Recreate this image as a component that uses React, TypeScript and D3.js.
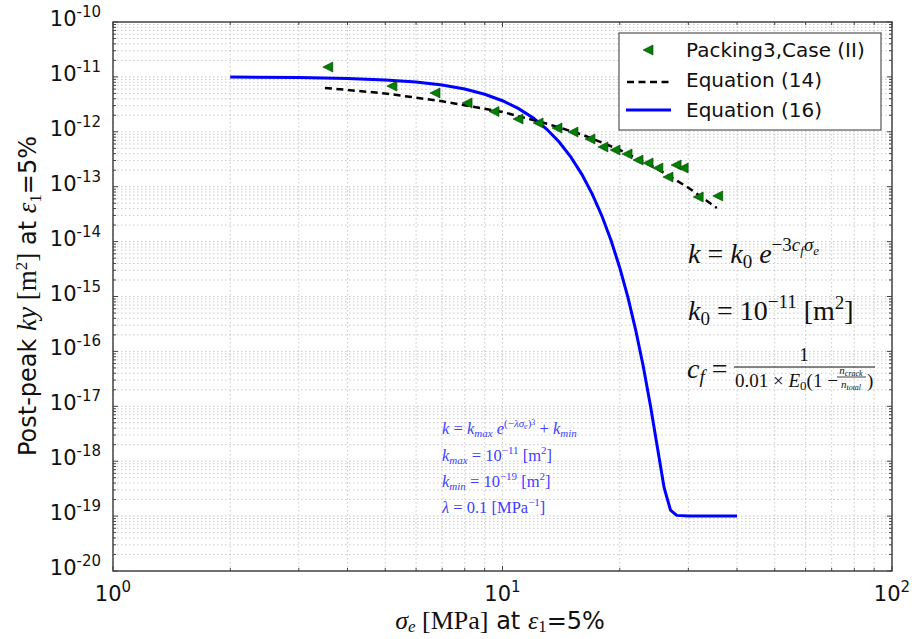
import React from "react";
import * as d3 from "d3";

// ---------- data ----------
const xTickExps = [0, 1, 2];
const yTickExps = [-10, -11, -12, -13, -14, -15, -16, -17, -18, -19, -20];

// Packing3, Case (II) measured points (sigma_e [MPa], k [m^2])
const pointSigma = [3.56, 5.2, 6.71, 8.11, 9.51, 10.96, 12.34, 13.8, 15.17, 16.77, 18.11, 19.45, 20.88, 22.28, 23.64, 25.06, 26.6, 27.9, 29.1, 31.8, 35.7];
const pointK = [1.51e-11, 6.8e-12, 5.1e-12, 3.35e-12, 2.34e-12, 1.71e-12, 1.45e-12, 1.17e-12, 9.9e-13, 7.4e-13, 5.3e-13, 4.66e-13, 3.94e-13, 3.06e-13, 2.7e-13, 2.19e-13, 1.5e-13, 2.48e-13, 2.19e-13, 6.5e-14, 6.8e-14];

// Equation (14) dashed curve
const eq14Sigma = [3.5, 5, 7, 10, 13, 16, 20, 25, 30, 35.5];
const eq14K = [6.3e-12, 5.0e-12, 3.6e-12, 2.3e-12, 1.4e-12, 8.9e-13, 4.7e-13, 2.1e-13, 9.6e-14, 4.1e-14];

// Equation (16) blue curve
const eq16Sigma = [2, 3, 4, 5, 6, 7, 8, 9, 10, 11, 12, 13, 14, 15, 16, 17, 18, 19, 20, 21, 22, 23, 24, 25, 26, 27, 28, 30, 35, 40];
const eq16K = [1.0e-11, 9.73e-12, 9.38e-12, 8.82e-12, 8.06e-12, 7.1e-12, 6.0e-12, 4.82e-12, 3.68e-12, 2.64e-12, 1.78e-12, 1.11e-12, 6.43e-13, 3.42e-13, 1.66e-13, 7.35e-14, 2.93e-14, 1.05e-14, 3.35e-15, 9.5e-16, 2.37e-16, 5.2e-17, 9.9e-18, 1.74e-18, 3.3e-19, 1.28e-19, 1.03e-19, 1.0e-19, 1.0e-19, 1.0e-19];

const legendLabels = ["Packing3,Case (II)", "Equation (14)", "Equation (16)"];

// ---------- layout ----------
const W = 917, H = 639;
const L = 113, R = 892, T = 22, B = 571;
const SANS = "'DejaVu Sans', sans-serif";
const SERIF = "'Liberation Serif', 'DejaVu Serif', serif";
const GREEN = "#008000";
const BLUE = "#0000ff";
const MATHBLUE = "#4040ff";

const x = d3.scaleLog().domain([1, 100]).range([L, R]);
const y = d3.scaleLog().domain([1e-20, 1e-10]).range([B, T]);

const triPath = (r: number) => `M${-r},0 L${r},${-r} L${r},${r} Z`;

export default function App() {
  const xMinor: number[] = [];
  for (let d = 0; d < 2; d++) for (let m = 2; m <= 9; m++) xMinor.push(m * Math.pow(10, d));
  const yMinor: number[] = [];
  for (let d = -20; d < -10; d++) for (let m = 2; m <= 9; m++) yMinor.push(m * Math.pow(10, d));
  const xMajor = xTickExps.map((e) => Math.pow(10, e));
  const yMajor = yTickExps.map((e) => Math.pow(10, e));

  const line = d3.line<[number, number]>().x((d) => x(d[0])).y((d) => y(d[1]));
  const eq14 = line(eq14Sigma.map((s, i) => [s, eq14K[i]] as [number, number])) || "";
  const eq16 = line(eq16Sigma.map((s, i) => [s, eq16K[i]] as [number, number])) || "";

  const gridStyle = { stroke: "#c4c4c4", strokeWidth: 0.9, strokeDasharray: "1.5,2.5" };

  return (
    <svg width={W} height={H} style={{ position: "absolute", left: 0, top: 0, background: "#fff" }}>
      <rect x={0} y={0} width={W} height={H} fill="#fff" />
      {/* grid */}
      <g>
        {[...xMinor, ...xMajor].map((v, i) => (
          <line key={"gx" + i} x1={x(v)} x2={x(v)} y1={T} y2={B} {...gridStyle} />
        ))}
        {[...yMinor, ...yMajor].map((v, i) => (
          <line key={"gy" + i} y1={y(v)} y2={y(v)} x1={L} x2={R} {...gridStyle} />
        ))}
      </g>
      {/* ticks (inside, all sides) */}
      <g stroke="#444" strokeWidth={1}>
        {xMajor.map((v, i) => (
          <g key={"xt" + i}>
            <line x1={x(v)} x2={x(v)} y1={B} y2={B - 5} />
            <line x1={x(v)} x2={x(v)} y1={T} y2={T + 5} />
          </g>
        ))}
        {xMinor.map((v, i) => (
          <g key={"xm" + i}>
            <line x1={x(v)} x2={x(v)} y1={B} y2={B - 3} />
            <line x1={x(v)} x2={x(v)} y1={T} y2={T + 3} />
          </g>
        ))}
        {yMajor.map((v, i) => (
          <g key={"yt" + i}>
            <line x1={L} x2={L + 5} y1={y(v)} y2={y(v)} />
            <line x1={R} x2={R - 5} y1={y(v)} y2={y(v)} />
          </g>
        ))}
        {yMinor.map((v, i) => (
          <g key={"ym" + i}>
            <line x1={L} x2={L + 3} y1={y(v)} y2={y(v)} />
            <line x1={R} x2={R - 3} y1={y(v)} y2={y(v)} />
          </g>
        ))}
      </g>
      {/* curves */}
      <path d={eq16} fill="none" stroke={BLUE} strokeWidth={3} />
      <path d={eq14} fill="none" stroke="#000" strokeWidth={2.5} strokeDasharray="7,4.5" />
      {pointSigma.map((s, i) => (
        <path
          key={"p" + i}
          d={triPath(5)}
          transform={`translate(${x(s)},${y(pointK[i])})`}
          fill={GREEN}
          stroke="#0a3a0a"
          strokeWidth={0.6}
        />
      ))}
      {/* frame */}
      <rect x={L} y={T} width={R - L} height={B - T} fill="none" stroke="#444" strokeWidth={1.5} />

      {/* tick labels */}
      {xTickExps.map((e, i) => (
        <text key={"xl" + i} x={x(Math.pow(10, e))} y={601} textAnchor="middle" fontFamily={SANS} fontSize={21} fill="#111">
          10
          <tspan dy={-9} fontSize={15}>{e}</tspan>
        </text>
      ))}
      {yTickExps.map((e, i) => (
        <text key={"yl" + i} x={101} y={y(Math.pow(10, e)) + 4} textAnchor="end" fontFamily={SANS} fontSize={21} fill="#111">
          10
          <tspan dy={-9} fontSize={15}>{e}</tspan>
        </text>
      ))}

      {/* axis labels */}
      <text x={500} y={629} textAnchor="middle" fontSize={24} fill="#111">
        <tspan fontFamily={SERIF} fontStyle="italic" fontSize={26}>σ</tspan>
        <tspan fontFamily={SERIF} fontStyle="italic" fontSize={17} dy={3}>e</tspan>
        <tspan fontFamily={SERIF} fontSize={26} dy={-3}> [MPa]</tspan>
        <tspan fontFamily={SANS}> at </tspan>
        <tspan fontFamily={SERIF} fontStyle="italic" fontSize={26}>ε</tspan>
        <tspan fontFamily={SERIF} fontSize={17} dy={3}>1</tspan>
        <tspan fontFamily={SANS} dy={-3}>=5%</tspan>
      </text>
      <text transform="translate(36,296) rotate(-90)" textAnchor="middle" fontSize={24} fill="#111">
        <tspan fontFamily={SANS}>Post-peak </tspan>
        <tspan fontFamily={SERIF} fontStyle="italic" fontSize={27}>ky</tspan>
        <tspan fontFamily={SERIF} fontSize={27}> [m</tspan>
        <tspan fontFamily={SERIF} fontSize={17} dy={-9}>2</tspan>
        <tspan fontFamily={SERIF} fontSize={27} dy={9}>]</tspan>
        <tspan fontFamily={SANS}> at </tspan>
        <tspan fontFamily={SERIF} fontStyle="italic" fontSize={27}>ε</tspan>
        <tspan fontFamily={SERIF} fontSize={17} dy={5}>1</tspan>
        <tspan fontFamily={SANS} dy={-5}>=5%</tspan>
      </text>

      {/* legend */}
      <g>
        <rect x={619} y={33} width={262} height={97} fill="#fff" stroke="#555" strokeWidth={1.2} />
        <path d={triPath(5)} transform="translate(648,50)" fill={GREEN} stroke="#0a3a0a" strokeWidth={0.6} />
        <line x1={627} x2={669} y1={82} y2={82} stroke="#000" strokeWidth={2.5} strokeDasharray="7,4.5" />
        <line x1={626} x2={671} y1={110} y2={110} stroke={BLUE} strokeWidth={3} />
        {legendLabels.map((t, i) => (
          <text key={"lg" + i} x={686} y={57 + i * 30} fontFamily={SANS} fontSize={20} fill="#111">
            {t}
          </text>
        ))}
      </g>

      {/* black annotations */}
      <g fontFamily={SERIF} fill="#111" fontSize={28}>
        <text x={688} y={263}>
          <tspan fontStyle="italic">k</tspan>
          <tspan> = </tspan>
          <tspan fontStyle="italic">k</tspan>
          <tspan fontSize={19} dy={5}>0</tspan>
          <tspan dy={-5} fontStyle="italic"> e</tspan>
          <tspan fontSize={19} dy={-12}>−3</tspan>
          <tspan fontSize={19} fontStyle="italic">c</tspan>
          <tspan fontSize={13} fontStyle="italic" dy={4}>f</tspan>
          <tspan fontSize={19} fontStyle="italic" dy={-4}>σ</tspan>
          <tspan fontSize={13} fontStyle="italic" dy={4}>e</tspan>
        </text>
        <text x={688} y={320}>
          <tspan fontStyle="italic">k</tspan>
          <tspan fontSize={19} dy={5}>0</tspan>
          <tspan dy={-5}> = 10</tspan>
          <tspan fontSize={19} dy={-12}>−11</tspan>
          <tspan dy={12}> [m</tspan>
          <tspan fontSize={19} dy={-11}>2</tspan>
          <tspan dy={11}>]</tspan>
        </text>
        <text x={687} y={378}>
          <tspan fontStyle="italic">c</tspan>
          <tspan fontSize={19} fontStyle="italic" dy={5}>f</tspan>
          <tspan dy={-5}> =</tspan>
        </text>
        <text x={804} y={361} fontSize={19} textAnchor="middle">1</text>
        <line x1={734} x2={875} y1={367} y2={367} stroke="#111" strokeWidth={1} />
        <text x={735} y={387} fontSize={19}>
          <tspan>0.01 × </tspan>
          <tspan fontStyle="italic">E</tspan>
          <tspan fontSize={13} dy={3}>0</tspan>
          <tspan dy={-3}>(1 − </tspan>
        </text>
        <text x={851} y={374} fontSize={11} textAnchor="middle" fontStyle="italic">
          n<tspan fontSize={8} dy={2}>crack</tspan>
        </text>
        <line x1={837} x2={866} y1={377} y2={377} stroke="#111" strokeWidth={0.8} />
        <text x={851} y={388} fontSize={11} textAnchor="middle" fontStyle="italic">
          n<tspan fontSize={8} dy={2}>total</tspan>
        </text>
        <text x={867} y={387} fontSize={19}>)</text>
      </g>

      {/* blue annotations */}
      <g fontFamily={SERIF} fill={MATHBLUE} fontSize={16.5}>
        <text x={442} y={434}>
          <tspan fontStyle="italic">k</tspan>
          <tspan> = </tspan>
          <tspan fontStyle="italic">k</tspan>
          <tspan fontSize={11} fontStyle="italic" dy={3}>max</tspan>
          <tspan fontStyle="italic" dy={-3}> e</tspan>
          <tspan fontSize={11} dy={-7}>(−</tspan>
          <tspan fontSize={11} fontStyle="italic">λσ</tspan>
          <tspan fontSize={8} fontStyle="italic" dy={2}>e</tspan>
          <tspan fontSize={11} dy={-2}>)</tspan>
          <tspan fontSize={8} dy={-2}>3</tspan>
          <tspan dy={9}> + </tspan>
          <tspan fontStyle="italic">k</tspan>
          <tspan fontSize={11} fontStyle="italic" dy={3}>min</tspan>
        </text>
        <text x={442} y={461}>
          <tspan fontStyle="italic">k</tspan>
          <tspan fontSize={11} fontStyle="italic" dy={3}>max</tspan>
          <tspan dy={-3}> = 10</tspan>
          <tspan fontSize={11} dy={-7}>−11</tspan>
          <tspan dy={7}>  [m</tspan>
          <tspan fontSize={11} dy={-7}>2</tspan>
          <tspan dy={7}>]</tspan>
        </text>
        <text x={442} y={487}>
          <tspan fontStyle="italic">k</tspan>
          <tspan fontSize={11} fontStyle="italic" dy={3}>min</tspan>
          <tspan dy={-3}> = 10</tspan>
          <tspan fontSize={11} dy={-7}>−19</tspan>
          <tspan dy={7}>  [m</tspan>
          <tspan fontSize={11} dy={-7}>2</tspan>
          <tspan dy={7}>]</tspan>
        </text>
        <text x={442} y={513}>
          <tspan fontStyle="italic">λ</tspan>
          <tspan> = 0.1 [MPa</tspan>
          <tspan fontSize={11} dy={-7}>−1</tspan>
          <tspan dy={7}>]</tspan>
        </text>
      </g>
    </svg>
  );
}
